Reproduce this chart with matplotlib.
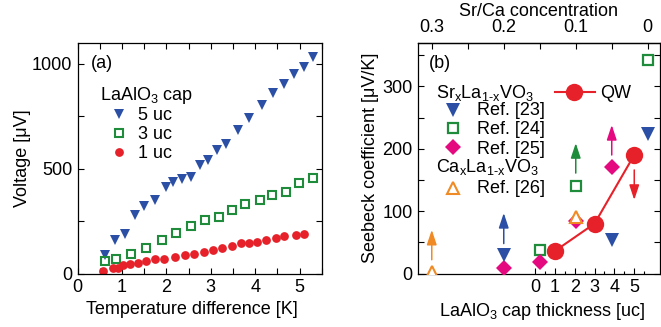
import matplotlib
matplotlib.use("Agg")
import matplotlib.pyplot as plt
from matplotlib.ticker import MultipleLocator, FixedLocator

plt.rcParams['font.family'] = ['Liberation Sans', 'DejaVu Sans']
plt.rcParams['mathtext.default'] = 'regular'
plt.rcParams['font.size'] = 13

# ---------------- data: panel (a) ----------------
t5 = [0.62, 0.84, 1.06, 1.29, 1.49, 1.74, 1.98, 2.15, 2.35, 2.56, 2.75, 2.94,
      3.14, 3.35, 3.61, 3.86, 4.15, 4.40, 4.66, 4.87, 5.09, 5.31]
v5 = [87, 159, 190, 278, 322, 349, 410, 436, 452, 460, 516, 540,
      587, 616, 682, 741, 801, 860, 903, 950, 986, 1031]
t3 = [0.61, 0.86, 1.21, 1.55, 1.89, 2.21, 2.55, 2.86, 3.18, 3.47, 3.78, 4.10,
      4.38, 4.70, 4.98, 5.31]
v3 = [58, 67, 95, 120, 159, 193, 227, 254, 270, 305, 333, 349, 373, 389, 429, 455]
t1 = [0.58, 0.80, 0.90, 1.02, 1.18, 1.35, 1.53, 1.74, 1.95, 2.19, 2.41, 2.62,
      2.84, 3.05, 3.26, 3.47, 3.69, 3.87, 4.04, 4.25, 4.47, 4.66, 4.91, 5.09]
v1 = [12, 27, 28, 40, 44, 50, 58, 67, 71, 79, 86, 92, 103, 114, 122, 130,
      143, 146, 150, 162, 171, 178, 182, 190]
labels_a = ["5 uc", "3 uc", "1 uc"]

# ---------------- data: panel (b) ----------------
ref23_conc = [0.2, 0.05, 0.0]
ref23_S = [29, 54, 223]
ref24_conc = [0.15, 0.1, 0.0]
ref24_S = [37, 141, 342]
ref25_conc = [0.2, 0.15, 0.1, 0.05]
ref25_S = [9, 19, 84, 170]
ref26_conc = [0.3, 0.1]
ref26_S = [3, 90]
qw_uc = [1, 3, 5]
qw_S = [36, 80, 190]
# arrows: position, start value, end value
arrow_conc = [0.3, 0.2, 0.1, 0.05]
arrow_from = [22, 48, 161, 190]
arrow_to = [70, 97, 209, 238]
qw_arrow_uc = [5]
qw_arrow_from = [166]
qw_arrow_to = [118]
ref_labels = ["Ref. [23]", "Ref. [24]", "Ref. [25]", "Ref. [26]"]

BLUE = "#2a4fa5"
GREEN = "#1f8c3b"
RED = "#e62129"
MAG = "#e5097f"
ORG = "#f08a24"

W, H = 661, 327
fig = plt.figure(figsize=(W / 100, H / 100), dpi=100)


def fx(px):
    return px / W


def fy(py):
    return 1 - py / H


def axes_rect(l, r, t, b):
    return [fx(l), fy(b), fx(r) - fx(l), fy(t) - fy(b)]


# marker styles
MS_A_TRI = dict(marker='v', color=BLUE, ms=7.5, mew=0)
MS_A_SQ = dict(marker='s', mfc='none', mec=GREEN, ms=5.6, mew=1.5)
MS_A_CI = dict(marker='o', color=RED, ms=6.3, mew=0)
MS_B_TRI = dict(marker='v', color=BLUE, ms=9.5, mew=0)
MS_B_SQ = dict(marker='s', mfc='none', mec=GREEN, ms=7.5, mew=1.6)
MS_B_DI = dict(marker='D', color=MAG, ms=8.3, mew=0)
MS_B_UT = dict(marker='^', mfc='white', mec=ORG, ms=9, mew=1.5)

# ======================= panel (a) =======================
ax = fig.add_axes(axes_rect(77.7, 321.7, 42.7, 273.5))
ax.plot(t5, v5, ls='none', **MS_A_TRI)
ax.plot(t3, v3, ls='none', **MS_A_SQ)
ax.plot(t1, v1, ls='none', **MS_A_CI)
ax.set_xlim(0, 5.5)
ax.set_ylim(0, 1100)
ax.xaxis.set_major_locator(MultipleLocator(1))
ax.xaxis.set_minor_locator(MultipleLocator(0.5))
ax.yaxis.set_major_locator(MultipleLocator(500))
ax.yaxis.set_minor_locator(MultipleLocator(250))
ax.tick_params(which='both', direction='in', top=True, right=True, width=0.8)
ax.tick_params(which='major', length=4, pad=4)
ax.tick_params(which='minor', length=4)
for s in ax.spines.values():
    s.set_linewidth(0.9)
ax.set_xlabel("Temperature difference [K]")
ax.set_ylabel("Voltage [μV]")
ax.xaxis.set_label_coords(0.468, -0.118)
ax.yaxis.set_label_coords(-0.19, 0.5)

fig.text(fx(91), fy(67.5), "(a)", va='baseline', ha='left')
fig.text(fx(100), fy(99.5), "LaAlO$_3$ cap", va='baseline', ha='left')
leg_y = [114, 132.7, 151.7]
leg_base = [120, 139, 158.3]
for st, yy in zip([MS_A_TRI, MS_A_SQ, MS_A_CI], leg_y):
    ax.plot([fx(119.3)], [fy(yy)], transform=fig.transFigure, clip_on=False, **st)
for lab, b in zip(labels_a, leg_base):
    fig.text(fx(138), fy(b), lab, va='baseline', ha='left')

# ======================= panel (b) =======================
UC0 = 5.68
K = 36.27


def conc2uc(c):
    return UC0 - K * c


def uc2conc(u):
    return (UC0 - u) / K


bx = fig.add_axes(axes_rect(418.3, 659.5, 42.7, 273.5))
bx.plot([conc2uc(c) for c in ref24_conc], ref24_S, ls='none', zorder=3, **MS_B_SQ)
bx.plot([conc2uc(c) for c in ref25_conc], ref25_S, ls='none', zorder=3, **MS_B_DI)
bx.plot([conc2uc(c) for c in ref26_conc], ref26_S, ls='none', zorder=4, **MS_B_UT)
bx.plot([conc2uc(c) for c in ref23_conc], ref23_S, ls='none', zorder=3, **MS_B_TRI)
bx.plot(qw_uc, qw_S, '-o', color=RED, ms=12.5, lw=1.5, mew=0, zorder=5)

arrow_cols = [ORG, BLUE, GREEN, MAG]
astyle = '-|>,head_length=0.6,head_width=0.2'
for c, a0, a1, col in zip(arrow_conc, arrow_from, arrow_to, arrow_cols):
    u = conc2uc(c)
    bx.annotate('', xy=(u, a1), xytext=(u, a0),
                arrowprops=dict(arrowstyle=astyle, color=col, lw=1.1,
                                mutation_scale=15, shrinkA=0, shrinkB=0))
for u, a0, a1 in zip(qw_arrow_uc, qw_arrow_from, qw_arrow_to):
    bx.annotate('', xy=(u, a1), xytext=(u, a0),
                arrowprops=dict(arrowstyle=astyle, color=RED, lw=1.1,
                                mutation_scale=15, shrinkA=0, shrinkB=0))

bx.set_xlim((418.3 - 535) / 19.85, (659.5 - 535) / 19.85)
bx.set_ylim(0, 370)
bx.xaxis.set_major_locator(FixedLocator([0, 1, 2, 3, 4, 5]))
bx.xaxis.set_minor_locator(FixedLocator([0.5, 1.5, 2.5, 3.5, 4.5, 5.5]))
bx.yaxis.set_major_locator(MultipleLocator(100))
bx.yaxis.set_minor_locator(MultipleLocator(50))
bx.tick_params(which='both', direction='in', top=False, right=True, width=0.8)
bx.tick_params(which='major', length=4.5, pad=4)
bx.tick_params(which='minor', length=2.5)
bx.tick_params(axis='y', which='minor', length=4)
for s in bx.spines.values():
    s.set_linewidth(0.9)
bx.set_xlabel("LaAlO$_3$ cap thickness [uc]")
bx.set_ylabel("Seebeck coefficient [μV/K]")
bx.xaxis.set_label_coords(0.515, -0.118)
bx.yaxis.set_label_coords(-0.165, 0.5)

top = bx.secondary_xaxis('top', functions=(uc2conc, conc2uc))
top.xaxis.set_major_locator(FixedLocator([0.3, 0.2, 0.1, 0.0]))
top.xaxis.set_minor_locator(FixedLocator([0.25, 0.15, 0.05]))
top.set_xticklabels(["0.3", "0.2", "0.1", "0"])
top.tick_params(which='both', direction='in', width=0.8, pad=5)
top.tick_params(which='major', length=4.5)
top.tick_params(which='minor', length=4)
top.spines['top'].set_linewidth(0.9)
top.set_xlabel("Sr/Ca concentration", labelpad=2)

# panel (b) annotations / legend
fig.text(fx(428.5), fy(67.5), "(b)", va='baseline', ha='left')
fig.text(fx(436), fy(98.3), "Sr$_x$La$_{1\u2010x}$VO$_3$", va='baseline', ha='left')
fig.text(fx(436), fy(171.7), "Ca$_x$La$_{1\u2010x}$VO$_3$", va='baseline', ha='left')
mk_y = [110, 128.3, 147.3, 187.7]
txt_y = [115, 134.3, 154, 193.3]
for st, yy in zip([MS_B_TRI, MS_B_SQ, MS_B_DI, MS_B_UT], mk_y):
    bx.plot([fx(453.3)], [fy(yy)], transform=fig.transFigure, clip_on=False, **st)
for lab, yy in zip(ref_labels, txt_y):
    fig.text(fx(477), fy(yy), lab, va='baseline', ha='left')
bx.plot([fx(555), fx(595)], [fy(91.7), fy(91.7)], '-', color=RED, lw=1.5,
        transform=fig.transFigure, clip_on=False)
bx.plot([fx(574)], [fy(91.7)], 'o', color=RED, ms=12.5, mew=0,
        transform=fig.transFigure, clip_on=False)
fig.text(fx(600), fy(98.3), "QW", va='baseline', ha='left')

fig.savefig("out.png", dpi=100)
